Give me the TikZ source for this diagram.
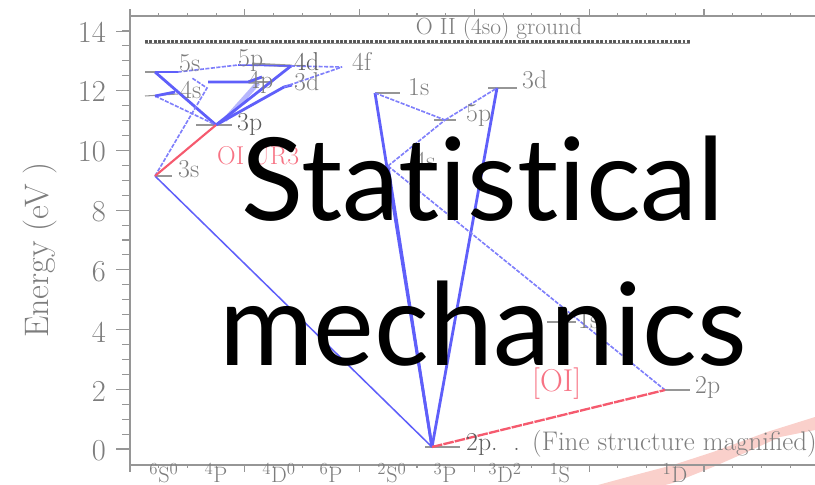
\documentclass[tikz,border=0pt]{standalone}
\usepackage{fontspec}
\newfontfamily\titlefont[Ligatures=NoCommon]{Lato}
\definecolor{linegray}{RGB}{150,150,150}
\definecolor{labelgray}{RGB}{125,125,125}
\definecolor{darkgray}{RGB}{90,90,90}
\definecolor{transblue}{RGB}{95,95,250}
\definecolor{transred}{RGB}{245,90,110}
\definecolor{streakpink}{RGB}{250,208,203}
\begin{document}
\begin{tikzpicture}[x=0.03cm, y=-0.03cm,
    axisline/.style={draw=linegray, line width=1.2pt},
    ticks/.style={draw=linegray, line width=0.9pt},
    level/.style={draw=linegray, line width=0.9pt},
    ticklabel/.style={text=labelgray, font=\fontsize{26}{26}\selectfont, anchor=east, inner sep=0pt},
    levellabel/.style={text=labelgray, font=\fontsize{22}{22}\selectfont, anchor=base west, inner sep=0pt},
    termlabel/.style={text=labelgray, font=\fontsize{19}{19}\selectfont, anchor=base, inner sep=0pt},
    strong/.style={draw=transblue, line width=2.4pt},
    medium/.style={draw=transblue, line width=1.3pt},
    faint/.style={draw=transblue!80, line width=1.4pt, dash pattern=on 3.5pt off 1.2pt},
    forbidden/.style={draw=transred, line width=1.8pt}]
    \useasboundingbox (0,0) rectangle (815,485);
    % pink streak at the lower right
    \fill[streakpink] (598,485) -- (635,475) -- (673,465) -- (713,452) -- (767,432) -- (815,417)
        -- (815,430) -- (780,437) -- (747,452) -- (713,467) -- (673,483) -- (665,485) -- cycle;
    % frame
    \draw[axisline] (815,16) -- (130,16) -- (130,465) -- (815,465);
    % energy ticks
    \foreach \n in {0,...,28}
        \draw[ticks] (130,449-14.93*\n) -- (122,449-14.93*\n);
    \foreach \n in {0,...,7}
        \draw[ticks] (130,449-59.7*\n) -- (116,449-59.7*\n);
    % term ticks
    \foreach \n in {0,...,23} {
        \draw[ticks] (130+28.7*\n,16) -- (130+28.7*\n,13);
        \draw[ticks] (130+28.7*\n,465) -- (130+28.7*\n,468);
    }
    \foreach \n in {0,...,5} {
        \draw[ticks] (130+114.8*\n,16) -- (130+114.8*\n,9);
        \draw[ticks] (130+114.8*\n,465) -- (130+114.8*\n,472);
    }
    % energy labels
    \node[ticklabel] (e14) at (106,32) {14};
    \node[ticklabel] (e12) at (106,91) {12};
    \node[ticklabel] (e10) at (106,152) {10};
    \node[ticklabel] (e8) at (106,212) {8};
    \node[ticklabel] (e6) at (106,272) {6};
    \node[ticklabel] (e4) at (106,332) {4};
    \node[ticklabel] (e2) at (106,391) {2};
    \node[ticklabel] (e0) at (106,451) {0};
    \node[text=labelgray, rotate=90, inner sep=0pt, font=\fontsize{29}{29}\selectfont] (ylabel) at (40,250) {Energy (eV )};
    % ground line
    \draw[level] (145,43.5) -- (690,43.5);
    \draw[draw=darkgray, line width=2pt, dash pattern=on 2.5pt off 1.2pt] (145,41.5) -- (690,41.5);
    \node[text=labelgray, inner sep=0pt, font=\fontsize{20}{20}\selectfont] (ground) at (499,29) {O II (4so) ground};
    % level positions
    \coordinate (s3) at (155,176);
    \coordinate (p3) at (216,125);
    \coordinate (s5) at (155,72);
    \coordinate (s4) at (155,96);
    \coordinate (p4) at (208,82);
    \coordinate (p5) at (238,65);
    \coordinate (d4) at (291,66);
    \coordinate (d3) at (284,87);
    \coordinate (f4) at (342,67);
    \coordinate (s1) at (375,93);
    \coordinate (d2) at (497,88);
    \coordinate (p6) at (445,120);
    \coordinate (x4) at (388,166);
    \coordinate (p2) at (665,390);
    \coordinate (p0) at (432,447);
    % levels
    \draw[level] (145,72) -- (178,72);
    \draw[level] (145,96) -- (178,94);
    \draw[level] (155,176) -- (172,176);
    \draw[level] (196,125) -- (232,125);
    \draw[level] (208,82) -- (272,82);
    \draw[draw=linegray, line width=2.4pt] (252,64) -- (292,66);
    \draw[level] (375,93) -- (400,93);
    \draw[level] (488,88) -- (517,88);
    \draw[level] (434,120) -- (456,120);
    \draw[level] (547,322) -- (576,322);
    \draw[level] (665,390) -- (690,390);
    \draw[draw=linegray, line width=1.6pt] (425,447) -- (460,447);
    % transitions
    \draw[strong] (s5) -- (p3);
    \draw[medium] (s5) -- (178,72);
    \draw[faint] (s4) -- (p3);
    \draw[strong] (s4) -- (175,92);
    \draw[faint] (178,72) -- (p5);
    \draw[medium] (p5) -- (d4);
    \draw[faint] (s3) -- (207,88) -- (192,78);
    \draw[draw=transblue!45, line width=4pt] (225,120) -- (258,83);
    \draw[strong] (p3) -- (d4);
    \draw[strong] (p3) -- (d3) -- (292,85);
    \draw[strong] (p4) -- (248,82) -- (262,77);
    \draw[faint] (d3) -- (f4);
    \draw[faint] (d4) -- (f4);
    \draw[medium] (s3) -- (p0);
    \draw[forbidden] (s3) -- (p3);
    \draw[strong] (s1) -- (p0);
    \draw[strong] (x4) -- (p0);
    \draw[strong] (d2) -- (p0);
    \draw[faint] (s1) -- (p6);
    \draw[faint] (p6) -- (d2);
    \draw[faint] (x4) -- (p6);
    \draw[faint] (x4) -- (p2);
    \draw[forbidden, line width=2pt, dash pattern=on 9pt off 1pt] (p0) -- (p2);
    % level labels
    \node[levellabel] (l5s) at (179,72) {5s};
    \node[levellabel] (l5p) at (238,67) {5p};
    \node[levellabel, text=darkgray] (l4d) at (294,71) {4d};
    \node[levellabel] (l4f) at (352,71) {4f};
    \node[levellabel] (l3d) at (294,91) {3d};
    \node[levellabel] (l4p) at (248,89) {4p};
    \node[levellabel] (l4s) at (180,99) {4s};
    \node[levellabel, text=darkgray] (l3p) at (237,131) {3p};
    \node[levellabel] (l3s) at (178,178) {3s};
    \node[levellabel] (l1s) at (408,96) {1s};
    \node[levellabel] (l2d) at (522,89) {3d};
    \node[levellabel] (l6p) at (466,122) {5p};
    \node[levellabel] (l4x) at (414,170) {4s};
    \node[levellabel] (l1x) at (578,328) {1s};
    \node[levellabel] (l2p) at (695,393) {2p};
    \node[levellabel, text=darkgray] (l2pf) at (466,450) {2p.\ \ .};
    \node[levellabel, font=\fontsize{23}{23}\selectfont] (fine) at (532,450) {(Fine structure magnified)};
    \node[levellabel, text=transred!85] (oiuv) at (217,165) {OI UR3};
    \node[levellabel, text=transred!85, font=\fontsize{27}{27}\selectfont] (oi) at (532,391) {[OI]};
    % term labels
    \node[termlabel] (t1) at (164,482) {$^{6}$S$^{0}$};
    \node[termlabel] (t2) at (216,482) {$^{4}$P};
    \node[termlabel] (t3) at (279,482) {$^{4}$D$^{0}$};
    \node[termlabel] (t4) at (331,482) {$^{6}$P};
    \node[termlabel] (t5) at (392,482) {$^{2}$S$^{0}$};
    \node[termlabel] (t6) at (445,482) {$^{3}$P};
    \node[termlabel] (t7) at (505,482) {$^{3}$D$^{2}$};
    \node[termlabel] (t8) at (560,482) {$^{1}$S};
    \node[termlabel] (t9) at (675,482) {$^{1}$D};
    % title
    \node[inner sep=0pt, align=center, font=\titlefont\fontsize{98}{124}\selectfont] (title) at (483,251) {Statistical\\mechanics};
\end{tikzpicture}
\end{document}
